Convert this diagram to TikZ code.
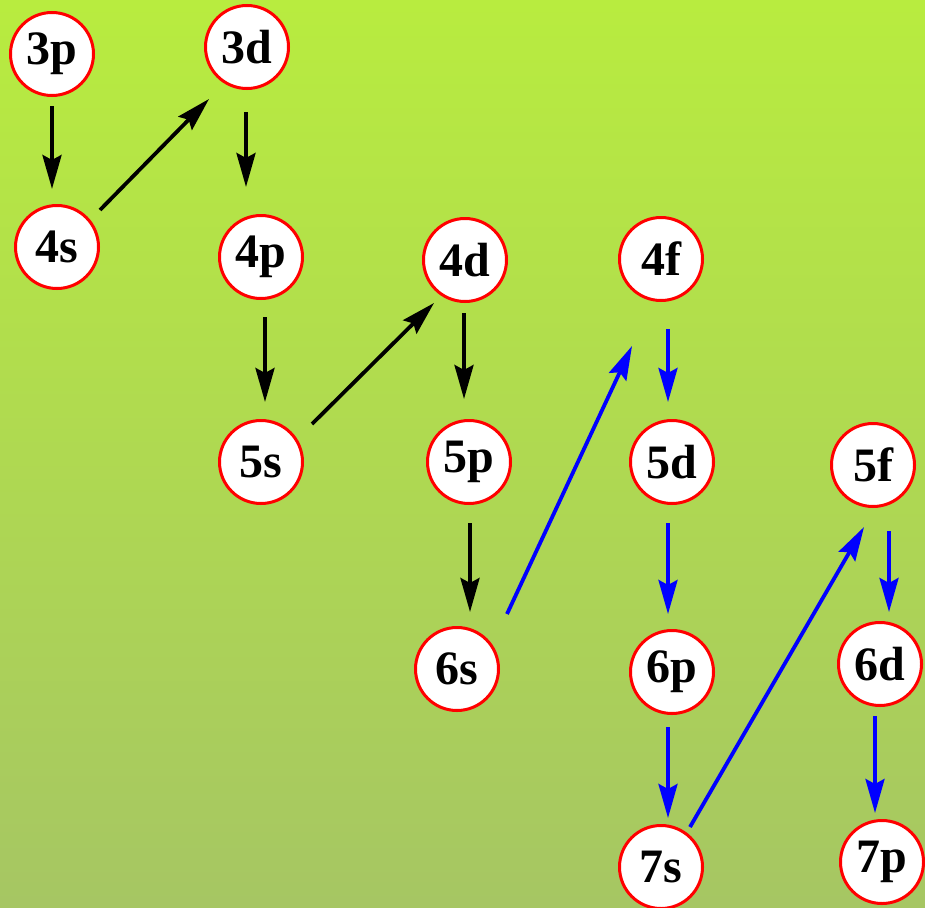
\documentclass[tikz,border=0pt]{standalone}
\usepackage{fontspec}
\setmainfont{Liberation Serif}
\usetikzlibrary{arrows.meta,calc}
\definecolor{bgtop}{HTML}{B8EC3F}
\definecolor{bgmid}{HTML}{B3E24A}
\definecolor{bgbot}{HTML}{A6C663}
\begin{document}
\begin{tikzpicture}[x=1pt,y=-1pt,
  orb/.style={circle,draw=red,fill=white,line width=3pt,minimum size=83pt,inner sep=0pt,
    font=\fontsize{48}{48}\selectfont\bfseries},
  arr/.style={line width=3.8pt,-{Stealth[length=34pt,width=19pt,inset=5pt]}},
  barr/.style={arr,blue}]
\shade[top color=bgtop,middle color=bgmid,bottom color=bgbot] (0,0) rectangle (925,907);
\useasboundingbox (0,0) rectangle (925,907);
\node[orb] (3p) at (52,54) {3p};
\node[orb] (3d) at (247,47) {3d};
\node[orb] (4s) at (57,247) {4s};
\node[orb] (4p) at (261,257) {4p};
\node[orb] (4d) at (465,260) {4d};
\node[orb] (4f) at (661,259) {4f};
\node[orb] (5s) at (261,462) {5s};
\node[orb] (5p) at (469,462) {5p};
\node[orb] (5d) at (672,462) {5d};
\node[orb] (5f) at (873,465) {5f};
\node[orb] (6s) at (457,669) {6s};
\node[orb] (6p) at (672,672) {6p};
\node[orb] (6d) at (880,664) {6d};
\node[orb] (7s) at (661,867) {7s};
\node[orb] (7p) at (882,862) {7p};
\draw[arr] ($(3p)+(0,52)$) -- ($(4s)+(-5,-58)$);
\draw[arr] ($(4s)+(43,-37)$) -- ($(3d)+(-38,52)$);
\draw[arr] ($(3d)+(-1,65)$) -- ($(4p)+(-15,-70)$);
\draw[arr] ($(4p)+(4,60)$) -- ($(5s)+(4,-60)$);
\draw[arr] ($(5s)+(51,-38)$) -- ($(4d)+(-31,43)$);
\draw[arr] ($(4d)+(-1,53)$) -- ($(5p)+(-5,-63)$);
\draw[arr] ($(5p)+(1,61)$) -- ($(6s)+(13,-57)$);
\draw[barr] ($(6s)+(50,-55)$) -- ($(4f)+(-29,87)$);
\draw[barr] ($(4f)+(7,70)$) -- ($(5d)+(-4,-60)$);
\draw[barr] ($(5d)+(-4,61)$) -- ($(6p)+(-4,-58)$);
\draw[barr] ($(6p)+(-4,55)$) -- ($(7s)+(7,-49)$);
\draw[barr] ($(7s)+(29,-40)$) -- ($(5f)+(-9,62)$);
\draw[barr] ($(5f)+(16,66)$) -- ($(6d)+(9,-52)$);
\draw[barr] ($(6d)+(-5,52)$) -- ($(7p)+(-7,-49)$);
\end{tikzpicture}
\end{document}
